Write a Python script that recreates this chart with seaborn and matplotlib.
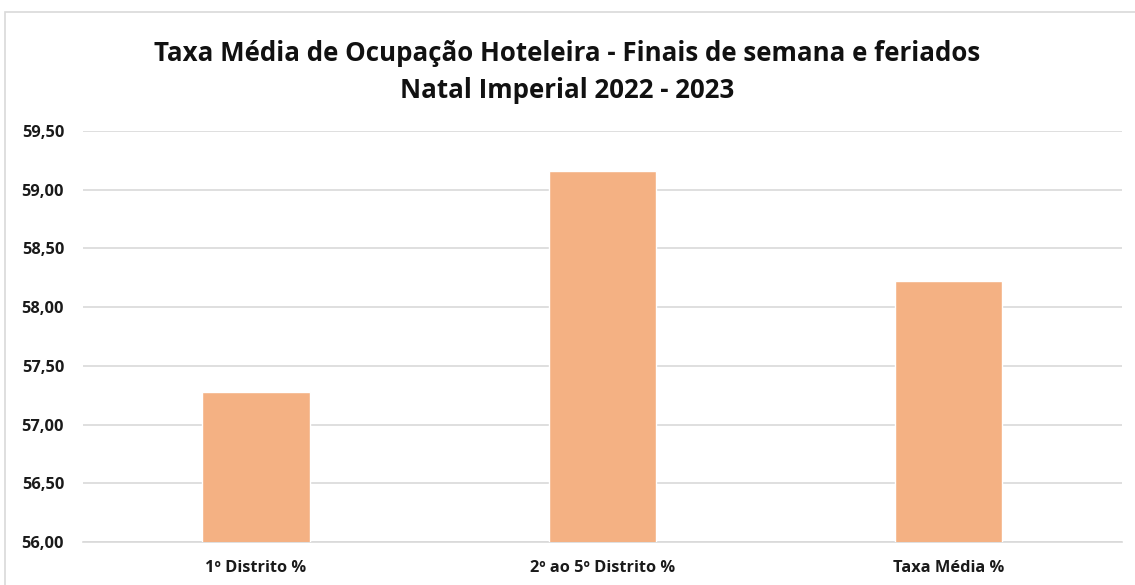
import pandas as pd
import seaborn as sns
import matplotlib.pyplot as plt
from matplotlib.patches import Rectangle
from matplotlib.ticker import FuncFormatter

# values
categories = ["1º Distrito %", "2º ao 5º Distrito %", "Taxa Média %"]
taxa = [57.28, 59.16, 58.22]
title = "Taxa Média de Ocupação Hoteleira - Finais de semana e feriados\nNatal Imperial 2022 - 2023"

df = pd.DataFrame({"local": categories, "taxa": taxa})

sns.set_style("white")
plt.rcParams["font.family"] = ["Open Sans", "DejaVu Sans"]

fig = plt.figure(figsize=(11.35, 5.85), dpi=100)
ax = fig.add_axes([0.073, 0.0735, 0.9155, 0.7025])

sns.barplot(data=df, x="local", y="taxa", color="#F4B183", saturation=1,
            width=0.31, ax=ax, zorder=3)

ax.set_ylim(56, 59.5)
ax.set_yticks([56 + 0.5 * i for i in range(8)])
ax.yaxis.set_major_formatter(FuncFormatter(lambda v, p: f"{v:.2f}".replace(".", ",")))
ax.grid(axis="y", color="#D9D9D9", linewidth=1.2, zorder=0)
ax.set_xlabel("")
ax.set_ylabel("")
for s in ["top", "right", "left"]:
    ax.spines[s].set_visible(False)
ax.spines["bottom"].set_color("#D9D9D9")
ax.spines["bottom"].set_linewidth(1.2)
ax.tick_params(axis="both", length=0, labelsize=11.8, labelcolor="#1a1a1a")
ax.tick_params(axis="x", pad=13)
ax.tick_params(axis="y", pad=13.5)
for lab in ax.get_xticklabels() + ax.get_yticklabels():
    lab.set_fontweight("bold")

fig.text(0.5, 0.877, title, ha="center", va="center", fontsize=18.6,
         fontweight="bold", color="#111111", linespacing=1.5)

# chart border
fig.patches.append(Rectangle((5 / 1135, -0.05), 1.1, 1 - 12 / 585 + 0.05,
                             transform=fig.transFigure, fill=False,
                             edgecolor="#D9D9D9", linewidth=1.2))

fig.savefig("out.png", dpi=100)
